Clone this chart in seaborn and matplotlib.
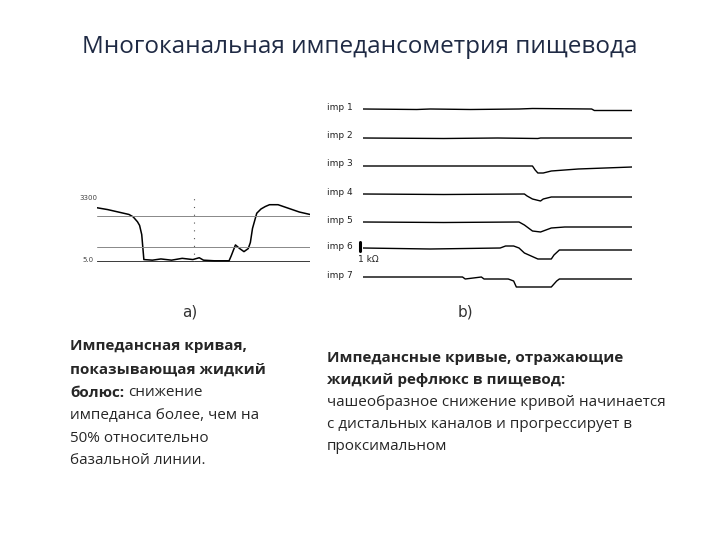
import matplotlib
matplotlib.use("Agg")
import matplotlib.pyplot as plt
import seaborn as sns
import pandas as pd

# left panel: single impedance curve (x 0..100, y 0..1 of the range)
curve_x = [0, 5, 10, 15, 17, 19, 20, 21, 22, 26, 30, 35, 40, 45, 48, 50, 55, 60, 62, 63,
           65, 67, 69, 71, 72, 73, 75, 77, 79, 81, 85, 90, 95, 100]
curve_y = [0.89, 0.86, 0.82, 0.78, 0.74, 0.66, 0.60, 0.45, 0.04, 0.03, 0.05, 0.03, 0.06,
           0.04, 0.07, 0.03, 0.02, 0.02, 0.02, 0.10, 0.28, 0.22, 0.17, 0.22, 0.32, 0.55,
           0.80, 0.87, 0.91, 0.94, 0.94, 0.88, 0.82, 0.78]

# right panel: seven channels, baseline offsets in px, breakpoints (x, drop)
channels = ["imp 1", "imp 2", "imp 3", "imp 4", "imp 5", "imp 6", "imp 7"]
baselines = [109, 138, 166, 194, 222, 248, 277]
trace_x = [
    [0, 20, 25, 40, 58, 63, 85, 86, 100],
    [0, 30, 50, 65, 66, 100],
    [0, 63, 64, 65, 67, 70, 80, 100],
    [0, 30, 60, 61, 63, 66, 67, 70, 100],
    [0, 30, 58, 60, 63, 66, 68, 70, 75, 100],
    [0, 25, 51, 53, 56, 58, 60, 65, 70, 71, 73, 100],
    [0, 37, 38, 44, 45, 54, 56, 57, 70, 72, 73, 100],
]
trace_y = [
    [0, 0.5, 0, 0.5, 0, -0.5, 0, 1.5, 1.5],
    [0, 0.5, 0, 0.5, 0, 0],
    [0, 0, 4, 7, 7, 5, 3, 1],
    [0, 0.5, 0, 2, 5, 7, 5, 3, 3],
    [0, 0.5, 0, 3, 9, 10, 8, 6, 5, 5],
    [0, 1, 0, -2, -2, 0, 5, 11, 11, 7, 2, 2],
    [0, 0, 2, 0, 2, 2, 4, 10, 10, 4, 2, 2],
]

W, H = 720, 540
sns.set_theme(style="white")
plt.rcParams["font.family"] = ["Open Sans", "DejaVu Sans"]
fig = plt.figure(figsize=(7.2, 5.4), dpi=100)


def ax_px(x0, y0, x1, y1):
    return fig.add_axes([x0 / W, 1 - y1 / H, (x1 - x0) / W, (y1 - y0) / H])


def txt(x, y, s, **kw):
    return fig.text(x / W, 1 - y / H, s, va="center", **kw)


txt(360, 47, "Многоканальная импедансометрия пищевода", ha="center", fontsize=17.5, color="#1f2a44")

# panel a
axa = ax_px(97, 198, 310, 262)
df_a = pd.DataFrame({"x": curve_x, "y": curve_y})
sns.lineplot(data=df_a, x="x", y="y", ax=axa, color="black", linewidth=1.1)
for g in (0.25, 0.75):
    axa.axhline(g, color="#888888", linewidth=0.7)
axa.axhline(0.0, color="black", linewidth=1.8)
axa.axvline(45.5, color="#555555", linewidth=0.8, linestyle=(0, (1, 6)))
axa.set_xlim(0, 100)
axa.set_ylim(0, 1.05)
axa.axis("off")
txt(88, 198, "3300", fontsize=5, color="#444444", ha="center", family="DejaVu Sans")
txt(88, 260, "5.0", fontsize=5, color="#444444", ha="center", family="DejaVu Sans")
txt(190, 312, "a)", ha="center", fontsize=11, color="#333333", family="DejaVu Sans")

# panel b
axb = ax_px(363, 100, 632, 290)
for name, base, xs, ys in zip(channels, baselines, trace_x, trace_y):
    df = pd.DataFrame({"x": xs, "y": [base + v for v in ys]})
    sns.lineplot(data=df, x="x", y="y", ax=axb, color="black", linewidth=1.0)
    axb.text(-13.5, base - 2, name, fontsize=6.5, ha="left", va="center",
             color="#222222", family="DejaVu Sans", clip_on=False)
axb.plot([-1.2, -1.2], [242, 251], color="black", linewidth=2.2, clip_on=False)
axb.text(-2, 259, "1 kΩ", fontsize=6.5, color="#222222", family="DejaVu Sans",
         va="center", clip_on=False)
axb.set_xlim(0, 100)
axb.set_ylim(290, 100)
axb.axis("off")
txt(465, 312, "b)", ha="center", fontsize=11, color="#333333", family="DejaVu Sans")

# body text
fs = 11
txt(70, 346, "Импедансная кривая,", fontsize=fs, weight="bold")
txt(70, 370, "показывающая жидкий", fontsize=fs, weight="bold")
b = txt(70, 393, "болюс:", fontsize=fs, weight="bold")
bb = b.get_window_extent(renderer=fig.canvas.get_renderer())
txt(bb.x1 + 4, 393, "снижение", fontsize=fs)
txt(70, 416, "импеданса более, чем на", fontsize=fs)
txt(70, 438, "50% относительно", fontsize=fs)
txt(70, 460, "базальной линии.", fontsize=fs)

txt(327, 358, "Импедансные кривые, отражающие", fontsize=fs, weight="bold")
txt(327, 380, "жидкий рефлюкс в пищевод:", fontsize=fs, weight="bold")
txt(327, 402, "чашеобразное снижение кривой начинается", fontsize=fs)
txt(327, 424, "с дистальных каналов и прогрессирует в", fontsize=fs)
txt(327, 446, "проксимальном", fontsize=fs)

fig.savefig("out.png", dpi=100)
